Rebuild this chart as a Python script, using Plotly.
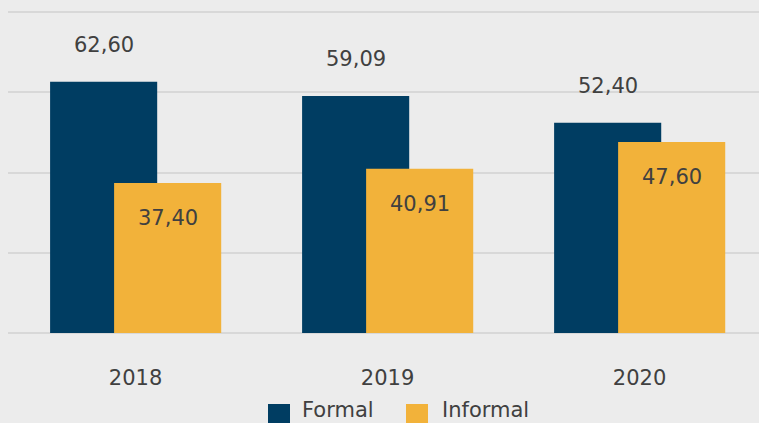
import plotly.graph_objects as go

years = ["2018", "2019", "2020"]
formal = [62.60, 59.09, 52.40]
informal = [37.40, 40.91, 47.60]
series_names = ["Formal", "Informal"]
colors = ["#003d62", "#f2b23a"]

W, H = 759, 423
ML, MR, MT, MB = 8, 0, 0, 90
PW, PH = W - ML - MR, H - MT - MB

def px_x(p):
    return (p - ML) / PW

def px_y(p):
    return (H - MB - p) / PH

def fmt(v):
    return f"{v:.2f}".replace(".", ",")

FONT = "DejaVu Sans, Verdana, sans-serif"
TXT = "#404040"

fig = go.Figure()
fig.add_trace(go.Bar(x=years, y=formal, name=series_names[0], marker_color=colors[0],
                     marker_line_width=0, width=0.425, offset=-0.339, showlegend=False))
fig.add_trace(go.Bar(x=years, y=informal, name=series_names[1], marker_color=colors[1],
                     marker_line_width=0, width=0.425, offset=-0.085, showlegend=False))

ann = []
for i, y in enumerate(years):
    ann.append(dict(x=i - 0.339 + 0.2125, y=formal[i], xref="x", yref="y", text=fmt(formal[i]),
                    showarrow=False, yanchor="middle", yshift=37,
                    font=dict(family=FONT, size=21, color=TXT)))
    ann.append(dict(x=i - 0.085 + 0.2125, y=informal[i], xref="x", yref="y", text=fmt(informal[i]),
                    showarrow=False, yanchor="middle", yshift=-35,
                    font=dict(family=FONT, size=21, color=TXT)))

# manual legend
shapes = []
leg = [(268, 300, series_names[0], colors[0]), (406, 440, series_names[1], colors[1])]
for sx, tx, name, c in leg:
    shapes.append(dict(type="rect", xref="paper", yref="paper",
                       x0=px_x(sx), x1=px_x(sx + 22), y0=px_y(404), y1=px_y(426),
                       fillcolor=c, line_width=0))
    ann.append(dict(x=px_x(tx), y=px_y(410), xref="paper", yref="paper", text=name,
                    showarrow=False, xanchor="left", yanchor="middle",
                    font=dict(family=FONT, size=21, color=TXT)))

fig.update_layout(
    width=W, height=H, margin=dict(l=ML, r=MR, t=MT, b=MB),
    paper_bgcolor="#ececec", plot_bgcolor="#ececec",
    barmode="overlay", showlegend=False,
    annotations=ann, shapes=shapes,
    xaxis=dict(type="category", range=[-0.506, 2.474], showgrid=False, zeroline=False,
               showline=False, ticks="", ticklabelstandoff=30,
               tickfont=dict(family=FONT, size=21, color=TXT)),
    yaxis=dict(range=[0, 83], dtick=20, showgrid=True, gridcolor="#d8d8d8", gridwidth=2,
               zeroline=True, zerolinecolor="#d8d8d8", zerolinewidth=2,
               showticklabels=False, ticks=""),
)
fig.write_html("out.html")
